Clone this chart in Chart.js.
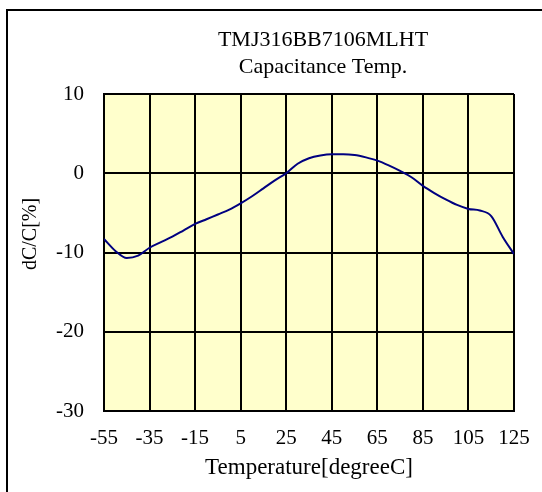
<!DOCTYPE html>
<html>
<head>
<meta charset="utf-8">
<script src="https://cdn.jsdelivr.net/npm/chart.js@4"></script>
<style>
    html, body { margin: 0; padding: 0; background: #fff; }
    canvas { display: block; }
</style>
</head>
<body>
<canvas id="capChart" width="542" height="492"></canvas>
<script>
// -- data ----------------------------------------------------------------
const TITLE_LINES = ['TMJ316BB7106MLHT', 'Capacitance Temp.'];
const X_LABEL = 'Temperature[degreeC]';
const Y_LABEL = 'dC/C[%]';

const X_TICKS = [-55, -35, -15, 5, 25, 45, 65, 85, 105, 125];
const Y_TICKS = [-30, -20, -10, 0, 10];

const temps = [-55, -50, -45, -40, -35, -30, -25, -20, -15, -10, -5, 0, 5, 10, 15, 20, 25,
    30, 35, 40, 45, 50, 55, 60, 65, 70, 75, 80, 85, 90, 95, 100, 105, 110, 115, 120, 125];
const dcc = [-8.3, -9.8, -10.7, -10.4, -9.4, -8.7, -8.0, -7.2, -6.4, -5.8, -5.2, -4.6, -3.8, -2.9, -1.9, -0.9, 0.0,
    1.2, 1.9, 2.25, 2.4, 2.4, 2.3, 2.0, 1.6, 1.0, 0.3, -0.5, -1.6, -2.5, -3.3, -4.0, -4.5, -4.7, -5.4, -8.0, -10.2];

const FONT = 'Liberation Serif, Times New Roman, serif';

// -- frame, plot background, title and y label ----------------------------
const decor = {
    id: 'decor',
    beforeDraw(chart) {
        const { ctx, chartArea: a } = chart;
        ctx.save();
        ctx.fillStyle = '#ffffcc';
        ctx.fillRect(a.left, a.top, a.right - a.left, a.bottom - a.top);
        ctx.strokeStyle = '#000';
        ctx.lineWidth = 2;
        ctx.beginPath();
        ctx.moveTo(7, chart.height);
        ctx.lineTo(7, 10);
        ctx.lineTo(chart.width, 10);
        ctx.stroke();
        ctx.restore();
    },
    afterDraw(chart) {
        const { ctx } = chart;
        ctx.save();
        ctx.fillStyle = '#000';
        ctx.font = `22px ${FONT}`;
        ctx.textAlign = 'center';
        ctx.textBaseline = 'middle';
        TITLE_LINES.forEach((t, i) => ctx.fillText(t, 323, 40 + i * 27));
        ctx.font = `20px ${FONT}`;
        ctx.translate(31, 234);
        ctx.rotate(-Math.PI / 2);
        ctx.fillText(Y_LABEL, 0, 0);
        ctx.restore();
    },
};

new Chart(document.getElementById('capChart'), {
    type: 'line',
    data: {
        datasets: [{
            data: temps.map((t, i) => ({ x: t, y: dcc[i] })),
            borderColor: '#000080',
            borderWidth: 2,
            pointRadius: 0,
            fill: false,
            cubicInterpolationMode: 'monotone',
        }],
    },
    options: {
        responsive: false,
        animation: false,
        layout: { padding: { left: 0, top: 94, right: 28, bottom: 0 } },
        plugins: { legend: { display: false }, tooltip: { enabled: false } },
        scales: {
            x: {
                type: 'linear',
                min: -55, max: 125,
                afterFit: (s) => { s.height = 81; s.paddingLeft = 0; s.paddingRight = 0; },
                afterBuildTicks: (s) => { s.ticks = X_TICKS.map((v) => ({ value: v })); },
                grid: { color: '#000', lineWidth: 2, drawTicks: false },
                border: { color: '#000', width: 2 },
                ticks: { color: '#000', padding: 15, font: { family: FONT, size: 21 }, maxRotation: 0 },
                title: { display: true, text: X_LABEL, color: '#000', font: { family: FONT, size: 23 }, padding: { top: 0, bottom: 10 } },
            },
            y: {
                min: -30, max: 10,
                afterFit: (s) => { s.width = 104; },
                afterBuildTicks: (s) => { s.ticks = Y_TICKS.map((v) => ({ value: v })); },
                grid: { color: '#000', lineWidth: 2, drawTicks: false },
                border: { color: '#000', width: 2 },
                ticks: { color: '#000', padding: 20, font: { family: FONT, size: 21 } },
            },
        },
    },
    plugins: [decor],
});
</script>
</body>
</html>
